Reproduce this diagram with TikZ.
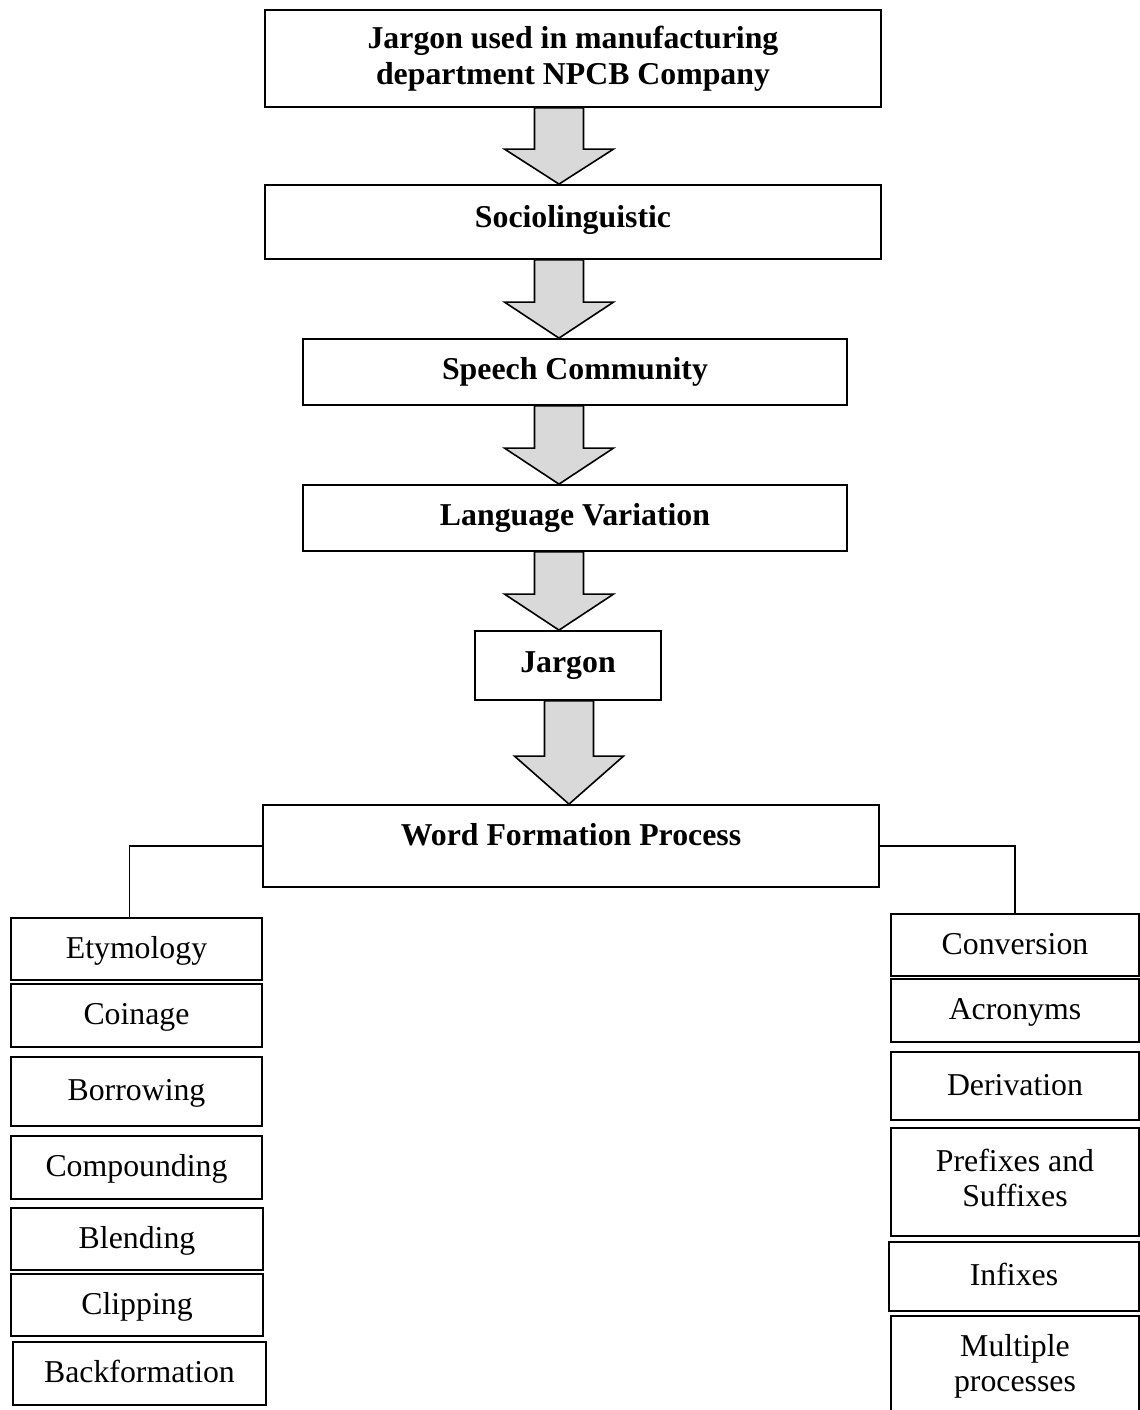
\documentclass[tikz,border=0pt]{standalone}
\usepackage{fontspec}
\setmainfont{Liberation Serif}
\usetikzlibrary{calc}

% grey block arrow from the bottom of one box to the top of the next
\newcommand{\blockarrow}[4]{%
  \draw[bigarrow] ($(#3,0|-#1.south)+(-24.5,0)$) -- ($(#3,0|-#1.south)+(24.5,0)$)
    -- ($(#3,0|-#2.north)+(24.5,-#4)$) -- ($(#3,0|-#2.north)+(54.5,-#4)$)
    -- (#3,0|-#2.north) -- ($(#3,0|-#2.north)+(-54.5,-#4)$)
    -- ($(#3,0|-#2.north)+(-24.5,-#4)$) -- cycle;}

\begin{document}
\begin{tikzpicture}[x=0.5pt, y=-0.5pt, font=\fontsize{15.9}{17.8}\selectfont,
  box/.style={draw, line width=0.9pt, inner sep=1pt, align=center},
  title/.style={box, font=\fontsize{15.9}{17.8}\selectfont\bfseries},
  term/.style={box, text height=11pt, text depth=2pt},
  bigarrow/.style={draw, line width=0.8pt, fill=black!15, line join=miter},
  link/.style={draw, line width=0.75pt}]
\useasboundingbox (0,0) rectangle (1140,1410);
\fill[white] (0,0) rectangle (1140,1410);
\clip (0,0) rectangle (1140,1410);

% main chain
\node[title, minimum width=308pt, minimum height=48.5pt] (top) at (573,58.5) {Jargon used in manufacturing\\department NPCB Company};
\node[title, text height=11pt, text depth=6pt, minimum width=308pt, minimum height=37pt] (socio) at (573,222) {Sociolinguistic};
\node[title, text height=11pt, text depth=4pt, minimum width=272pt, minimum height=33pt] (speech) at (575,372) {Speech Community};
\node[title, text height=11pt, text depth=4pt, minimum width=272pt, minimum height=33pt] (variation) at (575,518) {Language Variation};
\node[title, text height=11pt, text depth=4pt, minimum width=93pt, minimum height=34.5pt] (jargon) at (568,665.5) {Jargon};
\node[title, text height=11pt, text depth=12pt, minimum width=308pt, minimum height=41pt] (wfp) at (571,846) {Word Formation Process};

\blockarrow{top}{socio}{559}{35}
\blockarrow{socio}{speech}{559}{36}
\blockarrow{speech}{variation}{559}{36}
\blockarrow{variation}{jargon}{559}{36}
\blockarrow{jargon}{wfp}{569}{48}

% left column
\node[term, minimum width=125.5pt, minimum height=31pt] (ety) at (136.5,949) {Etymology};
\node[term, minimum width=125.5pt, minimum height=31.5pt] (coin) at (136.5,1015.5) {Coinage};
\node[term, minimum width=125.5pt, minimum height=34.5pt] (borr) at (136.5,1091.5) {Borrowing};
\node[term, minimum width=125.5pt, minimum height=31.5pt] (comp) at (136.5,1167.5) {Compounding};
\node[term, minimum width=126pt, minimum height=31pt] (blend) at (137,1239) {Blending};
\node[term, minimum width=126pt, minimum height=31pt] (clip) at (137,1305) {Clipping};
\node[term, minimum width=126.5pt, minimum height=31.5pt] (back) at (139.5,1373.5) {Backformation};

% right column
\node[term, minimum width=124pt, minimum height=31pt] (conv) at (1015,945) {Conversion};
\node[term, minimum width=124pt, minimum height=31.5pt] (acro) at (1015,1010.5) {Acronyms};
\node[term, minimum width=124pt, minimum height=34pt] (deriv) at (1015,1086) {Derivation};
\node[box, minimum width=124pt, minimum height=54pt] (prefix) at (1015,1182) {\raisebox{3.5pt}{\begin{tabular}{@{}c@{}}Prefixes and\\Suffixes\end{tabular}}};
\node[term, minimum width=125pt, minimum height=34.5pt] (infix) at (1014,1276.5) {Infixes};
\node[box, minimum width=124pt, minimum height=50.5pt] (multi) at (1015,1366.5) {Multiple\\processes};

\draw[link] (wfp.west) -| ([xshift=-3.5pt]ety.north);
\draw[link] (wfp.east) -| (conv.north);
\end{tikzpicture}
\end{document}
